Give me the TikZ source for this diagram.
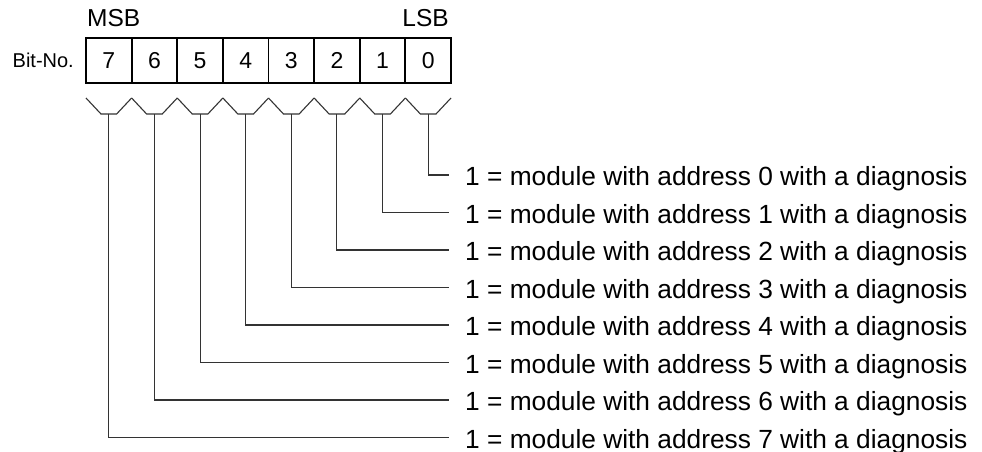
\documentclass[tikz,border=0pt]{standalone}
\usepackage{fontspec}
\setmainfont{Liberation Sans}
\begin{document}
\begin{tikzpicture}[x=1pt,y=-1pt,
  cell/.style={draw=black,line width=1.8pt,minimum width=45.625pt,minimum height=45pt,inner sep=0pt,font=\fontsize{23}{23}\selectfont},
  conn/.style={draw=black!80,line width=1.1pt},
  lbl/.style={anchor=base west,inner sep=0pt,font=\fontsize{26.3}{26}\selectfont},
  hdr/.style={inner sep=0pt,font=\fontsize{24.5}{25}\selectfont}]
\useasboundingbox (0,0) rectangle (982,452);
% register cells
\foreach \i in {0,...,7}{
  \pgfmathsetmacro\cx{86+45.625*(7-\i)+22.8125}
  \node[cell] (c\i) at (\cx,60.5) {\i};
}
\node[hdr,anchor=base west] (msb) at (87,27) {MSB};
\node[hdr,anchor=base east] (lsb) at (449,27) {LSB};
\node[inner sep=0pt,anchor=base east,font=\fontsize{20}{20}\selectfont] (bitno) at (74,67) {Bit-No.};
% braces, stems, connectors and labels
\foreach \i in {0,...,7}{
  \pgfmathsetmacro\xl{86+45.625*(7-\i)}
  \pgfmathsetmacro\xr{\xl+45.625}
  \pgfmathsetmacro\xc{\xl+22.8125}
  \pgfmathsetmacro\ly{175+37.5*\i}
  \draw[conn] (\xl,98) -- (\xl+15,114) -- (\xr-15,114) -- (\xr,98);
  \coordinate (s\i) at (\xc,114);
  \coordinate (e\i) at (449,\ly);
  \node[lbl] (t\i) at (465,\ly+10.5) {1 = module with address \i\ with a diagnosis};
  \draw[conn] (s\i) |- (e\i);
}
\end{tikzpicture}
\end{document}
